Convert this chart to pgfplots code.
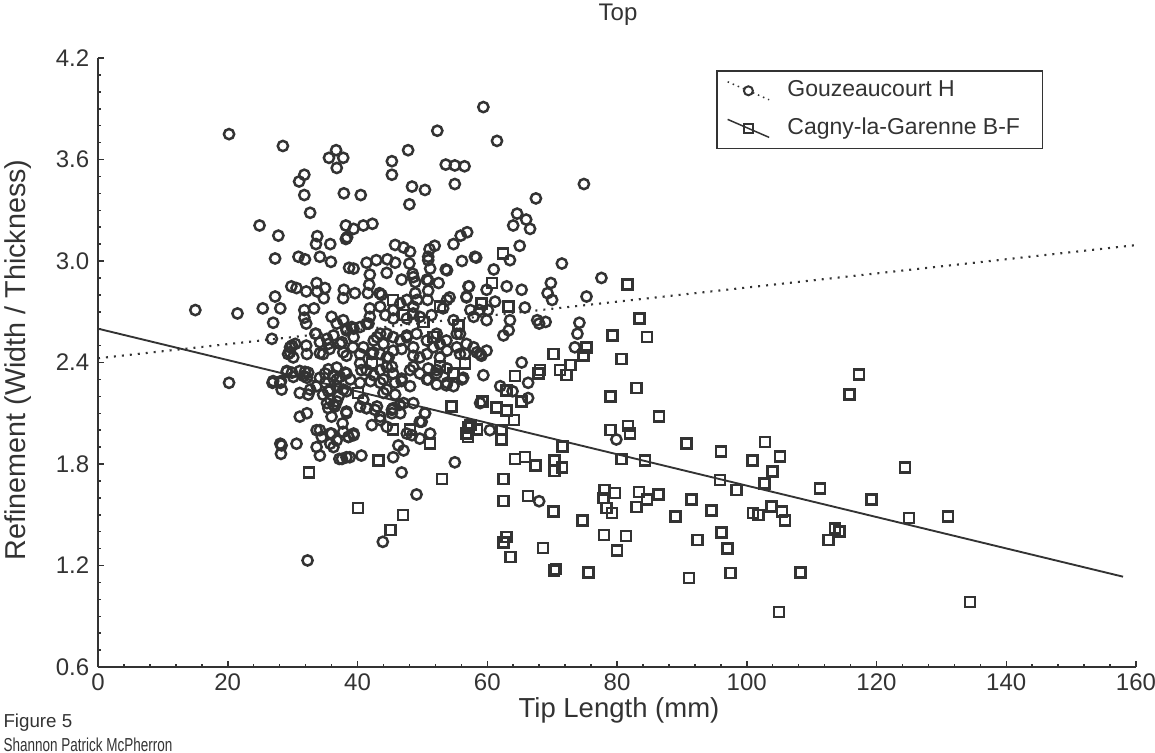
\documentclass[border=0pt]{standalone}
\usepackage{fontspec}
\setmainfont{Liberation Sans}
\usepackage{pgfplots}
\usepackage{pgfplotstable}
\pgfplotsset{compat=1.18}
\definecolor{ink}{HTML}{333333}

% Gouzeaucourt H
\pgfplotstableread{
x y
20.2 3.75
28.5 3.68
36.7 3.655
35.6 3.61
37.8 3.61
36.8 3.55
31.8 3.51
31.0 3.47
31.8 3.39
37.9 3.40
40.5 3.39
32.7 3.285
24.9 3.21
27.8 3.15
38.2 3.21
38.2 3.13
33.8 3.147
33.6 3.10
35.8 3.10
59.4 3.91
52.3 3.77
61.5 3.71
47.8 3.655
45.3 3.59
45.3 3.51
53.6 3.57
55.0 3.565
56.5 3.56
55.0 3.455
74.9 3.455
48.4 3.44
50.4 3.42
48.0 3.335
67.5 3.37
39.4 3.19
38.4 3.14
40.9 3.21
42.3 3.22
64.6 3.28
64.0 3.21
66.0 3.245
66.6 3.19
65.0 3.09
71.5 2.985
54.8 3.10
55.9 3.15
56.9 3.17
58.3 3.02
56.1 3.00
53.6 2.95
61.0 2.95
63.5 3.005
45.8 3.095
47.1 3.08
48.1 3.055
51.1 3.07
51.9 3.09
50.9 3.025
27.3 3.015
30.9 3.025
31.9 3.01
34.2 3.025
35.9 2.995
38.7 2.96
39.4 2.955
41.4 2.99
42.9 3.005
44.6 3.01
45.8 2.99
48.0 2.985
50.9 3.005
51.2 2.955
53.8 2.945
58.1 3.025
41.9 2.92
44.5 2.93
46.8 2.89
48.6 2.905
50.7 2.89
48.5 2.925
48.9 2.875
50.9 2.885
52.5 2.87
57.2 2.85
56.8 2.785
59.9 2.83
63.0 2.85
65.3 2.83
69.8 2.87
69.3 2.81
70.0 2.77
75.3 2.79
77.6 2.90
29.8 2.85
30.6 2.84
32.1 2.82
33.7 2.87
33.8 2.82
35.0 2.84
34.8 2.78
37.9 2.83
37.8 2.78
39.6 2.81
41.8 2.86
41.6 2.81
43.4 2.81
43.7 2.80
47.6 2.77
48.9 2.81
49.2 2.77
50.9 2.825
50.8 2.77
53.8 2.77
54.2 2.785
57.1 2.85
56.8 2.79
27.3 2.79
28.1 2.72
25.4 2.72
31.8 2.71
33.3 2.72
31.8 2.665
32.1 2.63
27.0 2.635
15.0 2.71
21.5 2.69
36.0 2.67
36.8 2.63
38.3 2.60
39.1 2.61
33.6 2.57
26.8 2.54
29.9 2.50
29.6 2.46
32.1 2.50
32.2 2.45
34.2 2.455
35.3 2.54
35.7 2.48
37.3 2.51
37.8 2.46
60.1 2.71
61.2 2.76
65.8 2.725
58.8 2.71
59.9 2.65
63.5 2.65
63.3 2.59
62.5 2.56
67.7 2.65
69.0 2.64
68.0 2.63
74.2 2.635
73.9 2.57
73.5 2.49
65.3 2.40
41.9 2.72
43.5 2.73
45.5 2.71
46.6 2.75
48.6 2.73
41.9 2.67
44.3 2.68
45.5 2.66
47.6 2.66
48.6 2.69
49.6 2.67
51.4 2.68
53.2 2.72
54.8 2.65
55.8 2.57
57.4 2.71
57.9 2.67
29.6 2.49
30.4 2.51
29.3 2.45
30.1 2.43
33.5 2.57
34.2 2.52
35.5 2.51
34.7 2.45
36.3 2.56
37.6 2.52
39.4 2.55
39.3 2.49
40.9 2.49
38.3 2.59
40.4 2.61
41.7 2.63
42.5 2.53
43.5 2.57
44.0 2.51
45.5 2.55
46.6 2.53
47.6 2.56
42.2 2.45
43.5 2.45
44.5 2.43
45.5 2.47
46.8 2.48
48.6 2.49
49.6 2.43
50.7 2.53
51.7 2.49
52.7 2.51
53.8 2.47
55.3 2.49
56.6 2.45
57.9 2.49
37.8 2.65
39.4 2.60
41.4 2.63
43.0 2.55
44.5 2.57
47.6 2.55
49.1 2.57
52.2 2.57
53.7 2.53
55.3 2.57
56.8 2.51
58.4 2.46
59.9 2.47
27.0 2.29
28.1 2.28
29.1 2.35
29.9 2.34
31.1 2.35
31.7 2.32
32.4 2.34
31.1 2.22
32.7 2.24
33.7 2.26
34.7 2.21
34.2 2.31
35.5 2.36
36.8 2.37
38.1 2.34
38.9 2.30
36.8 2.30
35.8 2.24
37.1 2.20
38.3 2.23
40.4 2.395
41.4 2.355
42.5 2.325
43.5 2.355
44.5 2.375
45.5 2.335
40.4 2.28
42.0 2.29
43.5 2.28
44.5 2.24
45.8 2.28
46.8 2.29
48.1 2.26
48.6 2.375
49.6 2.335
50.9 2.365
52.2 2.355
53.8 2.365
50.7 2.30
52.2 2.27
53.8 2.28
54.8 2.26
56.3 2.31
35.3 2.16
36.5 2.14
36.0 2.08
31.1 2.08
32.2 2.10
40.9 2.18
41.4 2.13
43.0 2.14
43.5 2.08
45.3 2.12
46.6 2.10
48.6 2.16
50.4 2.10
49.6 2.05
51.2 1.98
33.7 2.00
34.5 1.96
36.0 1.98
36.8 1.94
38.6 1.96
39.4 1.98
28.1 1.92
30.6 1.92
20.2 2.28
26.9 2.28
28.2 2.29
28.3 2.24
29.1 2.345
30.1 2.315
31.9 2.345
32.2 2.31
32.4 2.21
28.3 1.91
28.2 1.86
32.3 1.23
34.2 2.00
35.8 1.98
37.7 2.04
33.7 1.90
34.2 1.85
35.8 1.92
36.3 1.90
37.2 1.83
38.3 1.84
35.0 2.28
35.5 2.23
35.8 2.18
36.3 2.15
35.5 2.13
36.8 2.17
35.0 2.335
36.3 2.325
37.3 2.315
36.8 2.26
37.8 2.24
38.3 2.10
38.6 1.96
38.3 2.44
40.4 2.45
42.4 2.46
44.8 2.43
48.6 2.44
50.7 2.45
52.7 2.43
55.8 2.45
58.9 2.45
38.3 2.335
40.6 2.355
44.0 2.30
45.3 2.375
46.8 2.305
48.1 2.355
50.9 2.30
52.2 2.335
53.7 2.265
56.1 2.30
59.4 2.325
44.0 2.22
45.8 2.21
47.1 2.16
38.3 2.11
40.4 2.14
41.4 2.13
42.7 2.12
45.5 2.13
46.5 2.15
45.3 2.10
42.2 2.03
43.5 2.06
44.5 2.02
62.0 2.26
63.9 2.23
66.3 2.28
66.3 2.19
58.9 2.16
60.4 2.00
50.4 2.10
49.9 2.05
49.6 1.95
55.0 1.81
46.8 1.75
49.1 1.62
43.9 1.34
68.0 1.58
46.3 1.91
47.1 1.88
45.5 1.84
40.6 1.85
38.8 1.84
37.6 1.83
39.4 1.97
37.8 1.99
47.6 1.98
48.4 1.97
59.1 2.44
79.9 1.945
}\gouz

% Cagny-la-Garenne B-F
\pgfplotstableread{
x y
32.5 1.75
40.1 2.22
42.2 2.395
45.5 2.77
47.1 2.68
50.2 2.64
52.7 2.73
55.6 2.62
51.7 2.55
52.7 2.375
54.8 2.335
56.6 2.395
57.4 2.03
56.8 1.98
54.5 2.14
45.5 2.005
48.1 2.005
51.2 1.92
62.4 3.045
60.7 2.87
59.1 2.75
63.3 2.73
75.3 2.49
70.2 2.45
74.8 2.44
72.8 2.385
71.2 2.355
72.2 2.325
68.1 2.355
67.9 2.335
64.3 2.32
65.3 2.17
63.0 2.235
59.3 2.17
61.4 2.135
63.0 2.115
64.1 2.06
57.1 2.015
58.4 2.005
57.0 1.96
62.2 2.00
62.2 1.945
43.2 1.82
53.0 1.71
62.5 1.71
62.5 1.58
66.3 1.61
70.2 1.52
74.7 1.465
71.6 1.905
64.3 1.83
65.8 1.84
67.4 1.79
70.4 1.82
70.4 1.76
71.5 1.78
40.1 1.54
47.0 1.50
45.1 1.41
63.0 1.37
62.5 1.335
63.6 1.25
68.6 1.305
70.3 1.17
70.6 1.18
75.6 1.16
79.3 2.56
84.6 2.55
81.6 2.86
83.5 2.66
80.7 2.42
83.0 2.25
79.0 2.20
86.5 2.08
79.0 2.00
81.7 2.025
82.0 1.98
80.7 1.83
84.3 1.82
90.7 1.92
96.0 1.875
102.8 1.93
105.1 1.845
100.9 1.82
104.0 1.755
102.7 1.685
95.9 1.705
98.4 1.645
111.3 1.655
119.2 1.59
117.3 2.33
115.8 2.21
78.1 1.645
79.7 1.63
77.9 1.60
78.4 1.54
79.2 1.51
83.4 1.635
84.6 1.59
83.0 1.545
86.4 1.62
91.5 1.59
89.0 1.49
94.6 1.525
101.0 1.51
101.8 1.50
103.8 1.55
105.4 1.52
105.9 1.465
113.6 1.42
114.3 1.40
112.6 1.35
78.0 1.38
81.4 1.375
80.0 1.29
92.4 1.35
96.1 1.395
97.0 1.30
91.1 1.125
97.5 1.155
108.3 1.16
105.0 0.925
124.4 1.78
125.0 1.48
131.0 1.49
134.4 0.985
}\cagny

\begin{document}
\begin{tikzpicture}
\path[use as bounding box] (-39.2pt,-34pt) rectangle (422.8pt,266.8pt);
\begin{axis}[
  at={(0pt,0pt)}, anchor=south west,
  scale only axis, width=415.2pt, height=243.6pt,
  xmin=0, xmax=160, ymin=0.6, ymax=4.2,
  axis x line*=bottom, axis y line*=left,
  axis line style={ink, line width=0.85pt},
  xtick={0,20,40,60,80,100,120,140,160},
  ytick={0.6,1.2,1.8,2.4,3.0,3.6,4.2},
  minor x tick num=4, minor y tick num=5,
  tick style={ink, line width=0.6pt},
  major tick length=2.4pt, minor tick length=1.4pt,
  tick align=inside,
  /pgf/number format/assume math mode=true,
  ticklabel style={font=\fontsize{9.6}{11}\selectfont, text=ink},
  xticklabel style={yshift=1pt},
  yticklabel style={/pgf/number format/.cd, fixed, fixed zerofill, precision=1},
  legend style={at={(0.5954,0.9803)}, anchor=north west, draw=ink,
    line width=0.7pt, font=\fontsize{9.2}{11}\selectfont, text=ink,
    inner xsep=4pt, inner ysep=2pt, row sep=3pt,
    /tikz/every odd column/.style={column sep=5pt}},
  legend cell align=left,
]
\addplot[only marks, mark=square, mark size=2.0pt, ink, line width=1.0pt, forget plot] table {\cagny};
\addplot[only marks, mark=o, mark size=2.05pt, ink, line width=1.0pt, forget plot] table {\gouz};
\addplot[ink, line width=0.85pt, dash pattern=on 0.8pt off 2.4pt, forget plot] coordinates {(0,2.425) (160,3.094)};
\addplot[ink, line width=0.75pt, forget plot] coordinates {(0,2.60) (158,1.134)};

\addlegendimage{legend image code/.code={
  \draw[ink, line width=0.6pt, dash pattern=on 0.6pt off 1.6pt] (0pt,3.6pt) -- (16.6pt,-3.6pt);
  \draw[ink, line width=0.8pt, fill=white] (8.3pt,0pt) circle (1.8pt);}}
\addlegendentry{Gouzeaucourt H}
\addlegendimage{legend image code/.code={
  \draw[ink, line width=0.6pt] (0pt,3.6pt) -- (16.6pt,-3.6pt);
  \draw[ink, line width=0.8pt] (6.5pt,-1.8pt) rectangle (10.1pt,1.8pt);}}
\addlegendentry{Cagny-la-Garenne B-F\hspace*{3pt}}
\end{axis}
\node[font=\fontsize{9.6}{11}\selectfont, text=ink] at (208pt,260.8pt) {Top};
\node[font=\fontsize{11}{13}\selectfont, text=ink] at (208.4pt,-17.4pt) {Tip Length (mm)};
\node[font=\fontsize{11.5}{13}\selectfont, text=ink, rotate=90] at (-32pt,122.8pt) {Refinement (Width / Thickness)};
\node[font=\fontsize{7.5}{9}\selectfont, text=ink, anchor=west, inner sep=0pt] at (-38pt,-22.4pt) {Figure 5};
\node[font=\fontsize{7.5}{9}\selectfont, text=ink, anchor=base west, inner sep=0pt] at (-38pt,-33.6pt) {\scalebox{0.72}[1]{Shannon Patrick McPherron}};
\end{tikzpicture}
\end{document}
